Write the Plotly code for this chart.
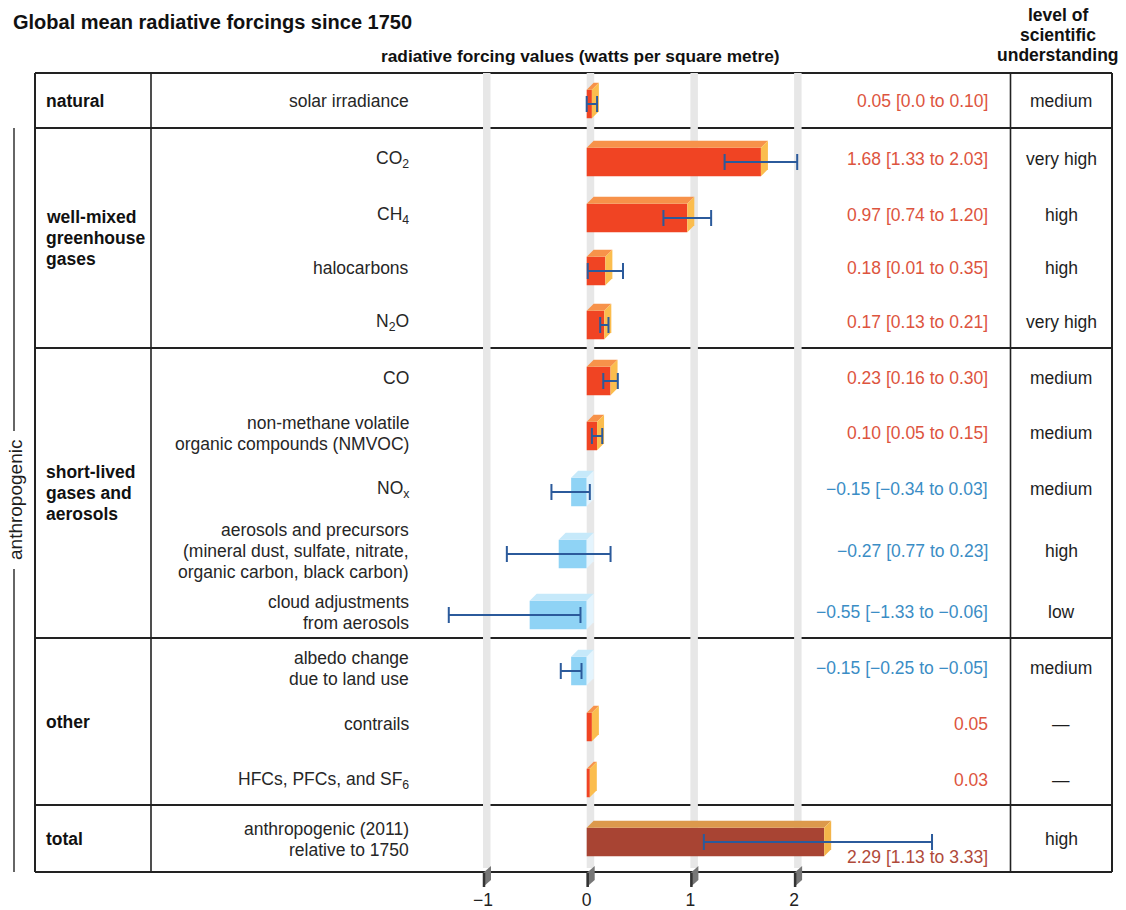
import plotly.graph_objects as go

# ---------------- data ----------------
items = [
    "solar irradiance",
    "CO<sub>2</sub>",
    "CH<sub>4</sub>",
    "halocarbons",
    "N<sub>2</sub>O",
    "CO",
    "non-methane volatile<br>organic compounds (NMVOC)",
    "NO<sub>x</sub>",
    "aerosols and precursors<br>(mineral dust, sulfate, nitrate,<br>organic carbon, black carbon)",
    "cloud adjustments<br>from aerosols",
    "albedo change<br>due to land use",
    "contrails",
    "HFCs, PFCs, and SF<sub>6</sub>",
    "anthropogenic (2011)<br>relative to 1750",
]
forcing = [0.05, 1.68, 0.97, 0.18, 0.17, 0.23, 0.10, -0.15, -0.27, -0.55, -0.15, 0.05, 0.03, 2.29]
low = [0.0, 1.33, 0.74, 0.01, 0.13, 0.16, 0.05, -0.34, -0.77, -1.33, -0.25, None, None, 1.13]
high = [0.10, 2.03, 1.20, 0.35, 0.21, 0.30, 0.15, 0.03, 0.23, -0.06, -0.05, None, None, 3.33]
value_labels = [
    "0.05 [0.0 to 0.10]",
    "1.68 [1.33 to 2.03]",
    "0.97 [0.74 to 1.20]",
    "0.18 [0.01 to 0.35]",
    "0.17 [0.13 to 0.21]",
    "0.23 [0.16 to 0.30]",
    "0.10 [0.05 to 0.15]",
    "\u22120.15 [\u22120.34 to 0.03]",
    "\u22120.27 [0.77 to 0.23]",
    "\u22120.55 [\u22121.33 to \u22120.06]",
    "\u22120.15 [\u22120.25 to \u22120.05]",
    "0.05",
    "0.03",
    "2.29 [1.13 to 3.33]",
]
understanding = ["medium", "very high", "high", "high", "very high", "medium", "medium",
                 "medium", "high", "low", "medium", "\u2014", "\u2014", "high"]
groups = ["natural", "well-mixed<br>greenhouse<br>gases", "short-lived<br>gases and<br>aerosols",
          "other", "total"]
group_sizes = [1, 4, 5, 3, 1]
x_ticks = [-1, 0, 1, 2]
x_tick_labels = ["\u22121", "0", "1", "2"]

# ---------------- layout (pixels) ----------------
W, H = 1126, 910
PX_PER_UNIT = 103.7
ZERO_PX = 586.7
row_y = [101, 159, 215, 268, 322, 378, 433, 489, 551, 612, 668, 724, 780, 839]
group_edges = [73, 128, 348, 638, 805, 872]
TABLE_L, COL1, COL2, TABLE_R = 35, 151, 1010.5, 1112
PLOT_BOTTOM = 887
BAR_H = 28.5
BAR_SHIFT = 3
DEPTH_PX = 7
dx = DEPTH_PX / PX_PER_UNIT

FONT = "Liberation Sans, Arial, Helvetica, sans-serif"
FS = 17.5

pos_cols = ("#f04423", "#f7924a", "#fbbd4e")
neg_cols = ("#8fd3f5", "#c6e9fa", "#e4f4fd")
tot_cols = ("#a84433", "#dc994c", "#f3b44a")
red_txt, blue_txt, tot_txt = "#dd543e", "#3b8dc5", "#b04a3a"
err_col = "#2b5a9b"


def px(xp):
    return xp / W


fig = go.Figure()

n = len(forcing)
is_total = [False] * (n - 1) + [True]
cols = [tot_cols if t else (pos_cols if v >= 0 else neg_cols) for v, t in zip(forcing, is_total)]
bar_y = [r + BAR_SHIFT for r in row_y]

# front faces
fig.add_trace(go.Bar(
    x=forcing, y=bar_y, orientation="h", width=[BAR_H] * n,
    marker=dict(color=[c[0] for c in cols], line=dict(width=0)),
    hoverinfo="skip", showlegend=False,
))

# 3D top and side faces
for v, yc, c in zip(forcing, bar_y, cols):
    yt, yb = yc - BAR_H / 2, yc + BAR_H / 2
    lo_x, hi_x = min(0, v), max(0, v)
    top_x = [lo_x, hi_x, hi_x + dx, lo_x + dx, lo_x]
    top_y = [yt, yt, yt - DEPTH_PX, yt - DEPTH_PX, yt]
    side_x = [hi_x, hi_x + dx, hi_x + dx, hi_x, hi_x]
    side_y = [yt, yt - DEPTH_PX, yb - DEPTH_PX, yb, yt]
    fig.add_trace(go.Scatter(x=top_x, y=top_y, fill="toself", fillcolor=c[1], mode="lines",
                             line=dict(width=0, color=c[1]), hoverinfo="skip", showlegend=False))
    fig.add_trace(go.Scatter(x=side_x, y=side_y, fill="toself", fillcolor=c[2], mode="lines",
                             line=dict(width=0, color=c[2]), hoverinfo="skip", showlegend=False))

# error bars
ex, ey, ep, em = [], [], [], []
for v, yc, lo, hi in zip(forcing, bar_y, low, high):
    if lo is None:
        continue
    ex.append(v)
    ey.append(yc)
    ep.append(hi - v)
    em.append(v - lo)
fig.add_trace(go.Scatter(
    x=ex, y=ey, mode="markers", marker=dict(size=1, opacity=0),
    error_x=dict(type="data", symmetric=False, array=ep, arrayminus=em,
                 color=err_col, thickness=2, width=8),
    hoverinfo="skip", showlegend=False,
))

# gridlines (3D "walls") and tick marks
for t in x_ticks:
    fig.add_shape(type="rect", xref="x", yref="y", x0=t, x1=t + 7.5 / PX_PER_UNIT,
                  y0=group_edges[0], y1=868, fillcolor="#e7e7e7", line=dict(width=0), layer="below")
for t in x_ticks:
    d = 8 / PX_PER_UNIT
    fig.add_shape(type="path", xref="x", yref="y",
                  path=f"M {t},{PLOT_BOTTOM} L {t},{873} L {t + d},{866} L {t + d},{880} Z",
                  fillcolor="#777777", line=dict(width=0), layer="above")
    fig.add_shape(type="line", xref="x", yref="y", x0=t + 1 / PX_PER_UNIT, x1=t + 1 / PX_PER_UNIT,
                  y0=873, y1=PLOT_BOTTOM, line=dict(color="#333333", width=2.5), layer="above")

# table lines
for e in group_edges:
    fig.add_shape(type="line", xref="paper", yref="y", x0=px(TABLE_L), x1=px(TABLE_R), y0=e, y1=e,
                  line=dict(color="#222222", width=2), layer="below")
for xc, w in [(TABLE_L, 2), (COL1, 1.6), (COL2, 1.6), (TABLE_R, 2)]:
    fig.add_shape(type="line", xref="paper", yref="y", x0=px(xc), x1=px(xc),
                  y0=group_edges[0], y1=group_edges[-1], line=dict(color="#222222", width=w), layer="below")

# anthropogenic bracket
fig.add_shape(type="line", xref="paper", yref="y", x0=px(14), x1=px(14), y0=group_edges[1], y1=431,
              line=dict(color="#333333", width=1.5))
fig.add_shape(type="line", xref="paper", yref="y", x0=px(14), x1=px(14), y0=569, y1=group_edges[-1],
              line=dict(color="#333333", width=1.5))
fig.add_annotation(x=px(15), y=500, xref="paper", yref="y", text="anthropogenic", textangle=-90,
                   showarrow=False, xanchor="center", yanchor="middle",
                   font=dict(family=FONT, size=19, color="#1e1e1e"))


def add_lines(text, x, y, xanchor, font, spacing=21):
    lines = text.split("<br>")
    k = len(lines)
    for i, ln in enumerate(lines):
        fig.add_annotation(x=x, y=y + (i - (k - 1) / 2) * spacing, xref="paper", yref="y",
                           text=ln, showarrow=False, xanchor=xanchor, yanchor="middle", font=font)


lab_font = dict(family=FONT, size=FS, color="#262626")
grp_font = dict(family=FONT, size=FS, color="#111111", weight="bold")

# item labels, values, understanding
for i in range(n):
    add_lines(items[i], px(411), row_y[i], "right", lab_font)
    if is_total[i]:
        vcol, vy = tot_txt, 857
    else:
        vcol, vy = (red_txt if forcing[i] >= 0 else blue_txt), row_y[i]
    fig.add_annotation(x=px(990), y=vy, xref="paper", yref="y", text=value_labels[i], showarrow=False,
                       xanchor="right", yanchor="middle", font=dict(family=FONT, size=FS, color=vcol))
    fig.add_annotation(x=px((COL2 + TABLE_R) / 2), y=row_y[i], xref="paper", yref="y",
                       text=understanding[i], showarrow=False, xanchor="center", yanchor="middle",
                       font=dict(family=FONT, size=FS, color="#1e1e1e"))

# group labels
for gi, g in enumerate(groups):
    yc = (group_edges[gi] + group_edges[gi + 1]) / 2
    add_lines(g, px(44), yc, "left", grp_font)

# headers
fig.add_annotation(x=px(11), y=22, xref="paper", yref="y", text="Global mean radiative forcings since 1750",
                   showarrow=False, xanchor="left", yanchor="middle",
                   font=dict(family=FONT, size=20, color="#111111", weight="bold"))
fig.add_annotation(x=px(580), y=56, xref="paper", yref="y",
                   text="radiative forcing values (watts per square metre)",
                   showarrow=False, xanchor="center", yanchor="middle",
                   font=dict(family=FONT, size=17.3, color="#111111", weight="bold"))
add_lines("level of<br>scientific<br>understanding", px(1058), 35, "center",
          dict(family=FONT, size=FS, color="#111111", weight="bold"), spacing=20)

fig.update_layout(
    width=W, height=H,
    margin=dict(l=0, r=0, t=0, b=0),
    plot_bgcolor="white", paper_bgcolor="white",
    showlegend=False,
    xaxis=dict(domain=[0, 1], range=[-ZERO_PX / PX_PER_UNIT, (W - ZERO_PX) / PX_PER_UNIT],
               tickvals=x_ticks, ticktext=x_tick_labels, showgrid=False, zeroline=False,
               showline=False, ticks="", tickfont=dict(family=FONT, size=FS, color="#222222"),
               fixedrange=True),
    yaxis=dict(domain=[1 - PLOT_BOTTOM / H, 1], range=[PLOT_BOTTOM, 0], visible=False,
               fixedrange=True),
)

fig.write_html("out.html", config={"displayModeBar": False},
               post_script="document.body.style.margin='0px';document.body.style.overflow='hidden';")
